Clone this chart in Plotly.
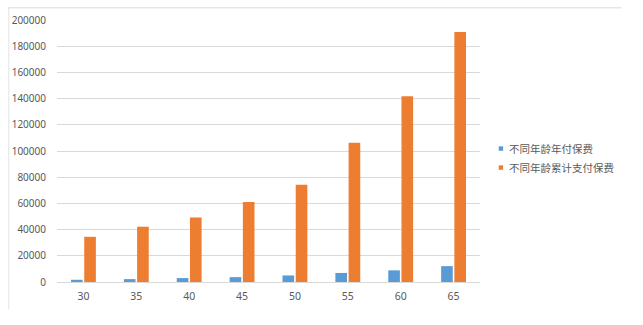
import plotly.graph_objects as go

ages = ["30", "35", "40", "45", "50", "55", "60", "65"]
annual_premium = [1700, 2200, 3000, 3700, 5000, 6900, 8900, 12100]
cumulative_premium = [34500, 42200, 49300, 61000, 74200, 106300, 141800, 190800]
series_names = ["不同年龄年付保费", "不同年龄累计支付保费"]
y_ticks = [0, 20000, 40000, 60000, 80000, 100000, 120000, 140000, 160000, 180000, 200000]

blue = "#5B9BD5"
orange = "#ED7D31"
font_family = "Microsoft YaHei, Noto Sans CJK SC, sans-serif"
tick_family = "Segoe UI, Noto Sans, sans-serif"

W, H = 643, 325
L, R, T, B = 50, 163, 13, 43
pw, ph = W - L - R, H - T - B

def px_x(x):
    return (x - L) / pw

def px_y(y):
    return (H - B - y) / ph

fig = go.Figure()
fig.add_trace(go.Bar(x=ages, y=annual_premium, name=series_names[0], marker_color=blue,
                     marker_line_width=0, showlegend=False))
fig.add_trace(go.Bar(x=ages, y=cumulative_premium, name=series_names[1], marker_color=orange,
                     marker_line_width=0, showlegend=False))

shapes = []
annotations = []
legend_y = [145, 164.5]
for name, color, yy in zip(series_names, [blue, orange], legend_y):
    shapes.append(dict(type="rect", xref="paper", yref="paper",
                       x0=px_x(499), x1=px_x(503.5), y0=px_y(yy - 2.3), y1=px_y(yy + 2.3),
                       fillcolor=color, line_width=0))
    annotations.append(dict(x=px_x(507), y=px_y(yy), xref="paper", yref="paper",
                            text=name, showarrow=False, xanchor="left", yanchor="middle",
                            font=dict(size=10.5, color="#595959", family=font_family)))

# faint outer frame (top and left)
shapes.append(dict(type="line", xref="paper", yref="paper", x0=px_x(0), x1=px_x(624),
                   y0=px_y(0.5), y1=px_y(0.5), line=dict(color="#d9d9d9", width=1)))
shapes.append(dict(type="line", xref="paper", yref="paper", x0=px_x(1), x1=px_x(1),
                   y0=px_y(0), y1=px_y(310), line=dict(color="#e3e3e3", width=1)))

fig.update_layout(
    width=W, height=H,
    margin=dict(l=L, r=R, t=T, b=B, pad=0),
    paper_bgcolor="white", plot_bgcolor="white",
    barmode="group", bargap=0.5, bargroupgap=0.12,
    font=dict(family=font_family, size=11, color="#595959"),
    shapes=shapes, annotations=annotations,
    xaxis=dict(showgrid=False, showline=False, zeroline=False, ticks="",
               ticklabelstandoff=6,
               tickfont=dict(size=10.5, color="#595959", family=tick_family)),
    yaxis=dict(range=[0, 200000], tickvals=y_ticks, ticktext=[str(v) for v in y_ticks],
               showgrid=True, gridcolor="#d9d9d9", gridwidth=1, zeroline=True,
               zerolinecolor="#d9d9d9", zerolinewidth=1, showline=False, ticks="",
               ticklabelstandoff=10,
               tickfont=dict(size=10, color="#595959", family=tick_family)),
)

fig.write_html("out.html")
